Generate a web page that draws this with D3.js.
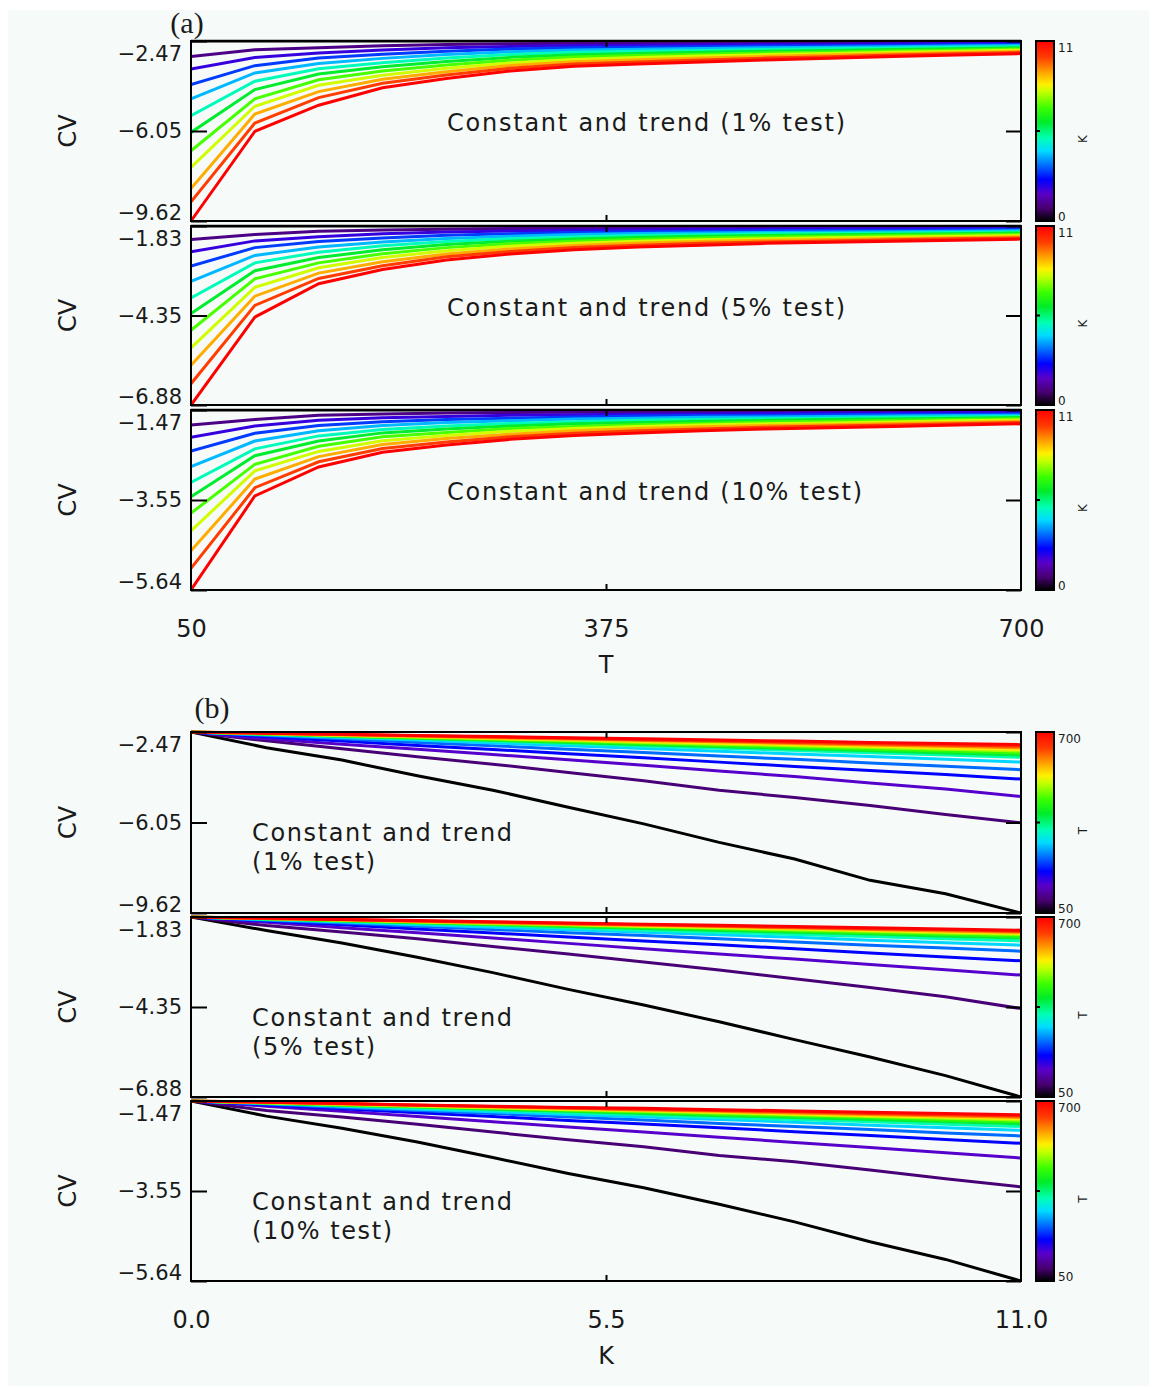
<!DOCTYPE html>
<html><head><meta charset="utf-8">
<script src="https://cdn.jsdelivr.net/npm/d3@7"></script>
<style>
body{margin:0;background:#fff}
text{font-family:"DejaVu Sans",sans-serif;fill:#1a1a1a}
</style>
</head><body>
<svg id="c" width="1154" height="1388"></svg>
<script>
// ---------- data ----------
const Tvals = [50,100,150,200,250,300,350,400,450,500,550,600,650,700];
const Kvals = [0,1,2,3,4,5,6,7,8,9,10,11];
const testLabels = ["(1% test)","(5% test)","(10% test)"];
const yTopVals = [-2.47,-1.83,-1.47];
const yBotVals = [-9.62,-6.88,-5.64];
const yTickLabels = [["−9.62","−6.05","−2.47"],["−6.88","−4.35","−1.83"],["−5.64","−3.55","−1.47"]];
const tTickVals = [50,375,700];
const tTickLabels = ["50","375","700"];
const kTickVals = [0,5.5,11];
const kTickLabels = ["0.0","5.5","11.0"];

// CV[T index][K]  — 1% test
const cv1 = [
 [-2.47,-3.09,-3.58,-4.20,-4.77,-5.44,-6.10,-6.83,-7.49,-8.33,-8.86,-9.62],
 [-2.47,-2.82,-3.13,-3.45,-3.74,-4.07,-4.40,-4.77,-5.06,-5.37,-5.73,-6.06],
 [-2.47,-2.74,-2.95,-3.15,-3.36,-3.57,-3.78,-4.01,-4.23,-4.48,-4.72,-5.02],
 [-2.47,-2.66,-2.83,-3.00,-3.16,-3.33,-3.49,-3.66,-3.83,-3.99,-4.15,-4.33],
 [-2.47,-2.61,-2.74,-2.88,-3.01,-3.15,-3.28,-3.42,-3.55,-3.69,-3.82,-3.96],
 [-2.47,-2.58,-2.69,-2.79,-2.90,-3.01,-3.12,-3.23,-3.34,-3.44,-3.55,-3.66],
 [-2.47,-2.56,-2.65,-2.74,-2.83,-2.92,-3.02,-3.11,-3.20,-3.29,-3.38,-3.47],
 [-2.47,-2.55,-2.64,-2.72,-2.80,-2.88,-2.97,-3.05,-3.13,-3.21,-3.30,-3.38],
 [-2.47,-2.55,-2.62,-2.70,-2.77,-2.85,-2.92,-3.00,-3.07,-3.15,-3.22,-3.30],
 [-2.47,-2.54,-2.61,-2.67,-2.74,-2.81,-2.88,-2.95,-3.01,-3.08,-3.15,-3.22],
 [-2.47,-2.53,-2.60,-2.66,-2.72,-2.78,-2.85,-2.91,-2.97,-3.03,-3.10,-3.16],
 [-2.47,-2.53,-2.58,-2.64,-2.70,-2.75,-2.81,-2.86,-2.92,-2.98,-3.03,-3.09],
 [-2.47,-2.52,-2.57,-2.62,-2.67,-2.72,-2.78,-2.83,-2.88,-2.93,-2.98,-3.03],
 [-2.47,-2.52,-2.56,-2.61,-2.65,-2.70,-2.74,-2.79,-2.83,-2.88,-2.92,-2.97]
];
// 5% test
const cv5 = [
 [-1.83,-2.21,-2.56,-2.96,-3.39,-3.86,-4.30,-4.77,-5.27,-5.76,-6.28,-6.88],
 [-1.83,-2.07,-2.25,-2.44,-2.66,-2.87,-3.09,-3.32,-3.56,-3.81,-4.07,-4.40],
 [-1.83,-1.98,-2.13,-2.27,-2.42,-2.57,-2.72,-2.87,-3.01,-3.16,-3.31,-3.46],
 [-1.83,-1.94,-2.05,-2.17,-2.28,-2.39,-2.50,-2.61,-2.72,-2.84,-2.95,-3.06],
 [-1.83,-1.92,-2.00,-2.09,-2.18,-2.27,-2.35,-2.44,-2.53,-2.62,-2.70,-2.79],
 [-1.83,-1.90,-1.97,-2.05,-2.12,-2.19,-2.26,-2.33,-2.40,-2.48,-2.55,-2.62],
 [-1.83,-1.89,-1.95,-2.01,-2.07,-2.14,-2.20,-2.26,-2.32,-2.38,-2.44,-2.50],
 [-1.83,-1.88,-1.94,-1.99,-2.04,-2.10,-2.15,-2.21,-2.26,-2.31,-2.37,-2.42],
 [-1.83,-1.88,-1.93,-1.98,-2.03,-2.08,-2.12,-2.17,-2.22,-2.27,-2.32,-2.37],
 [-1.83,-1.87,-1.92,-1.96,-2.01,-2.05,-2.10,-2.14,-2.19,-2.23,-2.28,-2.32],
 [-1.83,-1.87,-1.91,-1.96,-2.00,-2.04,-2.08,-2.12,-2.16,-2.21,-2.25,-2.29],
 [-1.83,-1.87,-1.91,-1.95,-1.99,-2.03,-2.06,-2.10,-2.14,-2.18,-2.22,-2.26],
 [-1.83,-1.87,-1.90,-1.94,-1.98,-2.01,-2.05,-2.08,-2.12,-2.16,-2.19,-2.23],
 [-1.83,-1.86,-1.90,-1.93,-1.96,-2.00,-2.03,-2.06,-2.10,-2.13,-2.17,-2.20]
];
// 10% test
const cv10 = [
 [-1.47,-1.82,-2.10,-2.42,-2.78,-3.15,-3.48,-3.86,-4.27,-4.73,-5.14,-5.64],
 [-1.47,-1.69,-1.84,-2.01,-2.19,-2.37,-2.53,-2.73,-2.88,-3.07,-3.27,-3.46],
 [-1.47,-1.59,-1.71,-1.83,-1.95,-2.07,-2.19,-2.31,-2.43,-2.55,-2.67,-2.79],
 [-1.47,-1.56,-1.65,-1.74,-1.83,-1.92,-2.00,-2.09,-2.18,-2.27,-2.36,-2.45],
 [-1.47,-1.54,-1.62,-1.69,-1.76,-1.84,-1.91,-1.99,-2.06,-2.13,-2.21,-2.28],
 [-1.47,-1.53,-1.59,-1.66,-1.72,-1.78,-1.84,-1.90,-1.96,-2.03,-2.09,-2.15],
 [-1.47,-1.52,-1.58,-1.63,-1.68,-1.74,-1.79,-1.85,-1.90,-1.95,-2.01,-2.06],
 [-1.47,-1.52,-1.57,-1.61,-1.66,-1.71,-1.76,-1.81,-1.85,-1.90,-1.95,-2.00],
 [-1.47,-1.51,-1.56,-1.60,-1.64,-1.69,-1.73,-1.78,-1.82,-1.86,-1.91,-1.95],
 [-1.47,-1.51,-1.55,-1.59,-1.63,-1.67,-1.71,-1.75,-1.79,-1.83,-1.87,-1.91],
 [-1.47,-1.51,-1.54,-1.58,-1.62,-1.66,-1.69,-1.73,-1.77,-1.81,-1.84,-1.88],
 [-1.47,-1.50,-1.54,-1.57,-1.61,-1.64,-1.68,-1.71,-1.75,-1.78,-1.82,-1.85],
 [-1.47,-1.50,-1.53,-1.57,-1.60,-1.63,-1.66,-1.69,-1.72,-1.76,-1.79,-1.82],
 [-1.47,-1.50,-1.53,-1.56,-1.59,-1.62,-1.64,-1.67,-1.70,-1.73,-1.76,-1.79]
];
const allData = [cv1, cv5, cv10];

// colour table (rainbow, black -> red)
const cmapStops = [[0,"#000000"],[0.07,"#46006e"],[0.15,"#5a00c8"],[0.23,"#0000ff"],[0.31,"#006eff"],
  [0.39,"#00dcff"],[0.46,"#00ffb4"],[0.55,"#00eb28"],[0.63,"#3cff00"],[0.72,"#c8ff00"],
  [0.76,"#fff000"],[0.82,"#ffaa00"],[0.91,"#ff3c00"],[1,"#ff0000"]];
const cmap = d3.scaleLinear().domain(cmapStops.map(d=>d[0])).range(cmapStops.map(d=>d[1])).interpolate(d3.interpolateRgb);

// ---------- layout ----------
const W = 1154, H = 1388;
const X0 = 191, X1 = 1021;
const aTops = [41,226,410], aBots = [221,405,590];
const bTops = [732,917,1101], bBots = [913,1097,1281];
const CB_X = 1036, CB_W = 18;

const svg = d3.select("#c");
svg.append("rect").attr("width",W).attr("height",H).attr("fill","#fff");
svg.append("rect").attr("x",8).attr("y",10).attr("width",1141).attr("height",1376).attr("fill","#f6fbf9");

const defs = svg.append("defs");
const grad = defs.append("linearGradient").attr("id","cbgrad").attr("x1",0).attr("y1",1).attr("x2",0).attr("y2",0);
cmapStops.forEach(s=>grad.append("stop").attr("offset",s[0]).attr("stop-color",s[1]));

function panel(mode, li, top, bot){
  const g = svg.append("g");
  const y = d3.scaleLinear().domain([yBotVals[li], yTopVals[li]]).range([bot, top]);
  const x = mode==="a" ? d3.scaleLinear().domain([50,700]).range([X0,X1])
                       : d3.scaleLinear().domain([0,11]).range([X0,X1]);
  const cid = "clip"+mode+li;
  defs.append("clipPath").attr("id",cid).append("rect")
     .attr("x",X0).attr("y",top-1.5).attr("width",X1-X0).attr("height",bot-top+3);
  const lg = g.append("g").attr("clip-path","url(#"+cid+")");
  const line = d3.line().x(d=>x(d[0])).y(d=>y(d[1]));
  const data = allData[li];
  if(mode==="a"){
    Kvals.forEach(k=>{
      lg.append("path").datum(Tvals.map((t,i)=>[t,data[i][k]]))
        .attr("d",line).attr("fill","none").attr("stroke",cmap(k/11)).attr("stroke-width",3);
    });
  } else {
    Tvals.forEach((t,i)=>{
      lg.append("path").datum(Kvals.map(k=>[k,data[i][k]]))
        .attr("d",line).attr("fill","none").attr("stroke",cmap((t-50)/650)).attr("stroke-width",3);
    });
  }
  // frame
  g.append("rect").attr("x",X0).attr("y",top).attr("width",X1-X0).attr("height",bot-top)
    .attr("fill","none").attr("stroke","#000").attr("stroke-width",2);
  // left axis
  const yt = [yBotVals[li], (yBotVals[li]+yTopVals[li])/2, yTopVals[li]];
  const la = g.append("g").attr("transform","translate("+X0+",0)")
    .call(d3.axisLeft(y).tickValues(yt).tickSize(-16).tickPadding(9)
      .tickFormat((d,i)=>yTickLabels[li][i]));
  la.select(".domain").remove();
  la.selectAll("line").attr("stroke","#000").attr("stroke-width",2);
  la.selectAll("text").style("font-size","21px").style("font-family","DejaVu Sans").attr("fill","#1a1a1a")
    .attr("transform",(d,i)=> i===0 ? "translate(0,-8)" : (i===2 ? "translate(0,13)" : null));
  // right axis
  const ra = g.append("g").attr("transform","translate("+X1+",0)")
    .call(d3.axisRight(y).tickValues(yt).tickSize(-15).tickFormat(""));
  ra.select(".domain").remove();
  ra.selectAll("line").attr("stroke","#000").attr("stroke-width",2);
  // top/bottom small ticks
  const xmid = mode==="a" ? [375] : [5.5];
  const ba = g.append("g").attr("transform","translate(0,"+bot+")")
    .call(d3.axisBottom(x).tickValues(xmid).tickSize(-6).tickFormat(""));
  ba.select(".domain").remove();
  ba.selectAll("line").attr("stroke","#000").attr("stroke-width",2);
  const ta = g.append("g").attr("transform","translate(0,"+top+")")
    .call(d3.axisTop(x).tickValues(xmid).tickSize(-6).tickFormat(""));
  ta.select(".domain").remove();
  ta.selectAll("line").attr("stroke","#000").attr("stroke-width",2);
  // CV label
  const my = (top+bot)/2;
  g.append("text").attr("transform","translate(68,"+my+") rotate(-90)")
    .attr("text-anchor","middle").attr("dominant-baseline","central")
    .style("font-size","24px").text("CV");
  // annotation
  if(mode==="a"){
    const s = "Constant and trend " + testLabels[li];
    g.append("text").attr("x",447).attr("y",top+82).attr("dominant-baseline","central")
      .style("font-size","24px").attr("textLength", li===2 ? 415 : 398).attr("lengthAdjust","spacing").text(s);
  } else {
    g.append("text").attr("x",252).attr("y",top+101).attr("dominant-baseline","central")
      .style("font-size","24px").attr("textLength",260).attr("lengthAdjust","spacing").text("Constant and trend");
    g.append("text").attr("x",252).attr("y",top+130).attr("dominant-baseline","central")
      .style("font-size","24px").attr("textLength", li===2 ? 140 : 123).attr("lengthAdjust","spacing").text(testLabels[li]);
  }
  // colorbar
  g.append("rect").attr("x",CB_X).attr("y",top).attr("width",CB_W).attr("height",bot-top)
    .attr("fill","url(#cbgrad)").attr("stroke","#000").attr("stroke-width",2);
  g.append("line").attr("x1",CB_X).attr("x2",CB_X+4).attr("y1",my).attr("y2",my).attr("stroke","#000").attr("stroke-width",2);
  const cbTop = mode==="a" ? "11" : "700";
  const cbBot = mode==="a" ? "0" : "50";
  g.append("text").attr("x",CB_X+CB_W+4).attr("y",top+7).attr("dominant-baseline","central")
    .style("font-size","12px").text(cbTop);
  g.append("text").attr("x",CB_X+CB_W+4).attr("y",bot-4).attr("dominant-baseline","central")
    .style("font-size","12px").text(cbBot);
  g.append("text").attr("transform","translate(1083,"+(my+8)+") rotate(-90)")
    .attr("text-anchor","middle").attr("dominant-baseline","central")
    .style("font-size","12px").text(mode==="a" ? "K" : "T");
  return x;
}

let xa, xb;
[0,1,2].forEach(li=>{ xa = panel("a", li, aTops[li], aBots[li]); });
[0,1,2].forEach(li=>{ xb = panel("b", li, bTops[li], bBots[li]); });

// x axis labels (bottom of each block)
function xLabels(x, vals, labs, bot, title){
  const ax = svg.append("g").attr("transform","translate(0,"+bot+")")
    .call(d3.axisBottom(x).tickValues(vals).tickSize(0).tickPadding(30).tickFormat((d,i)=>labs[i]));
  ax.select(".domain").remove();
  ax.selectAll("text").style("font-size","24px").style("font-family","DejaVu Sans").attr("fill","#1a1a1a");
  svg.append("text").attr("x",606).attr("y",bot+75).attr("text-anchor","middle").attr("dominant-baseline","central")
    .style("font-size","24px").text(title);
}
xLabels(xa, tTickVals, tTickLabels, aBots[2], "T");
xLabels(xb, kTickVals, kTickLabels, bBots[2], "K");

// panel titles
svg.append("text").attr("x",187).attr("y",22).attr("text-anchor","middle").attr("dominant-baseline","central")
  .style("font-family","Liberation Serif").style("font-size","30px").attr("fill","#000").text("(a)");
svg.append("text").attr("x",212).attr("y",707).attr("text-anchor","middle").attr("dominant-baseline","central")
  .style("font-family","Liberation Serif").style("font-size","30px").attr("fill","#000").text("(b)");
</script>
</body></html>
